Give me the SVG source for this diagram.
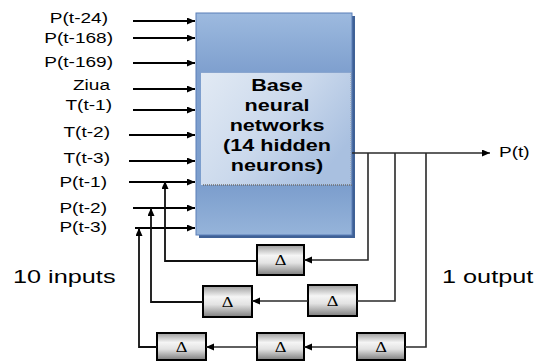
<svg xmlns="http://www.w3.org/2000/svg" width="537" height="361" viewBox="0 0 537 361">
  <style>
    .lbl { font-family: "Liberation Sans", Arial, sans-serif; font-size: 15px; fill: #000; }
    .big { font-family: "Liberation Sans", Arial, sans-serif; font-size: 19px; fill: #000; }
    .core { font-family: "Liberation Sans", Arial, sans-serif; font-size: 17px; font-weight: bold; fill: #000; text-anchor: middle; }
    .delta { font-family: "Liberation Serif", "Times New Roman", serif; font-size: 14px; fill: #000; text-anchor: middle; }
    .in { stroke: #000; stroke-width: 2; fill: none; }
    .fb { stroke: #111; stroke-width: 1.8; fill: none; }
    .out { stroke: #2a2a2a; stroke-width: 1.6; fill: none; }
    .dbox { fill: url(#metal); stroke: #000; stroke-width: 2; }
  </style>
  <defs>
    <marker id="arr" markerUnits="userSpaceOnUse" markerWidth="9" markerHeight="8" refX="8" refY="3.5" orient="auto">
      <path d="M0,0 L8,3.5 L0,7 z" fill="#000"/>
    </marker>
    <linearGradient id="bodyFill" x1="0" y1="0" x2="0" y2="1">
      <stop offset="0" stop-color="#9dbadf"/>
      <stop offset="0.27" stop-color="#7e9fce"/>
      <stop offset="0.78" stop-color="#7c9ecd"/>
      <stop offset="1" stop-color="#96b4da"/>
    </linearGradient>
    <linearGradient id="panelFill" x1="0" y1="0" x2="1" y2="0.6">
      <stop offset="0" stop-color="#e2eaf4"/>
      <stop offset="0.55" stop-color="#cbd9ec"/>
      <stop offset="1" stop-color="#a9c0e0"/>
    </linearGradient>
    <linearGradient id="metal" x1="0" y1="0" x2="0" y2="1">
      <stop offset="0" stop-color="#9c9c9c"/>
      <stop offset="0.35" stop-color="#f5f5f5"/>
      <stop offset="0.6" stop-color="#e2e2e2"/>
      <stop offset="1" stop-color="#7e7e7e"/>
    </linearGradient>
  </defs>

  <!-- network block -->
  <g id="network">
    <rect x="199" y="16" width="156" height="222" fill="#3f6196"/>
    <rect x="196" y="13" width="156" height="222" fill="url(#bodyFill)" stroke="#5a7fb8" stroke-width="1"/>
    <rect x="201" y="72" width="150" height="113" fill="url(#panelFill)"/>
    <line x1="201" y1="72.5" x2="351" y2="72.5" stroke="#8aa6cf" stroke-width="1"/>
    <line x1="203" y1="185" x2="352" y2="185" stroke="#6e6e6e" stroke-width="1.6" stroke-dasharray="1 1"/>
    <line x1="351" y1="72" x2="351" y2="185" stroke="#8d97a6" stroke-width="1" stroke-dasharray="1 1"/>
    <text class="core" transform="translate(277,90.5) scale(1.27,1)">Base</text>
    <text class="core" transform="translate(277,110.5) scale(1.27,1)">neural</text>
    <text class="core" transform="translate(277,130.5) scale(1.27,1)">networks</text>
    <text class="core" transform="translate(277,150.5) scale(1.27,1)">(14 hidden</text>
    <text class="core" transform="translate(277,170.5) scale(1.27,1)">neurons)</text>
  </g>

  <!-- input labels -->
  <g id="inputs">
    <text class="lbl" text-anchor="end" transform="translate(108,23) scale(1.27,1)">P(t-24)</text>
    <text class="lbl" text-anchor="end" transform="translate(113,43) scale(1.27,1)">P(t-168)</text>
    <text class="lbl" text-anchor="end" transform="translate(113,67) scale(1.27,1)">P(t-169)</text>
    <text class="lbl" text-anchor="end" transform="translate(110,90) scale(1.27,1)">Ziua</text>
    <text class="lbl" text-anchor="end" transform="translate(112,110) scale(1.27,1)">T(t-1)</text>
    <text class="lbl" text-anchor="end" transform="translate(110,137) scale(1.27,1)">T(t-2)</text>
    <text class="lbl" text-anchor="end" transform="translate(110,163) scale(1.27,1)">T(t-3)</text>
    <text class="lbl" text-anchor="end" transform="translate(107,187) scale(1.27,1)">P(t-1)</text>
    <text class="lbl" text-anchor="end" transform="translate(107,213) scale(1.27,1)">P(t-2)</text>
    <text class="lbl" text-anchor="end" transform="translate(107,232) scale(1.27,1)">P(t-3)</text>
  </g>

  <g id="output-label">
    <text class="lbl" transform="translate(499,157) scale(1.27,1)">P(t)</text>
  </g>

  <g id="captions">
    <text class="big" transform="translate(13,283) scale(1.33,1)">10 inputs</text>
    <text class="big" transform="translate(442,283) scale(1.33,1)">1 output</text>
  </g>

  <!-- delay units -->
  <g id="delayA">
    <rect class="dbox" x="257" y="245" width="47" height="30"/>
    <text class="delta" transform="translate(280.5,265) scale(1.3,1)">Δ</text>
  </g>
  <g id="delayB">
    <rect class="dbox" x="203" y="286" width="49" height="31"/>
    <text class="delta" transform="translate(227.5,306.5) scale(1.3,1)">Δ</text>
  </g>
  <g id="delayC">
    <rect class="dbox" x="308" y="285" width="49" height="31"/>
    <text class="delta" transform="translate(332.5,305.5) scale(1.3,1)">Δ</text>
  </g>
  <g id="delayD">
    <rect class="dbox" x="157" y="333" width="49" height="27"/>
    <text class="delta" transform="translate(181.5,352) scale(1.3,1)">Δ</text>
  </g>
  <g id="delayE">
    <rect class="dbox" x="257" y="333" width="47" height="27"/>
    <text class="delta" transform="translate(280.5,352) scale(1.3,1)">Δ</text>
  </g>
  <g id="delayF">
    <rect class="dbox" x="357" y="333" width="48" height="27"/>
    <text class="delta" transform="translate(381,352) scale(1.3,1)">Δ</text>
  </g>

  <!-- connectors -->
  <g id="connectors">
    <path class="in" d="M133,21 H195" marker-end="url(#arr)"/>
    <path class="in" d="M133,38 H195" marker-end="url(#arr)"/>
    <path class="in" d="M133,63 H195" marker-end="url(#arr)"/>
    <path class="in" d="M133,89 H195" marker-end="url(#arr)"/>
    <path class="in" d="M133,110 H195" marker-end="url(#arr)"/>
    <path class="in" d="M129,135 H195" marker-end="url(#arr)"/>
    <path class="in" d="M129,161 H195" marker-end="url(#arr)"/>
    <path class="in" d="M129,182 H195" marker-end="url(#arr)"/>
    <path class="in" d="M133,208 H195" marker-end="url(#arr)"/>
    <path class="in" d="M135,228 H195" marker-end="url(#arr)"/>

    <path class="out" d="M352,153 H490" marker-end="url(#arr)"/>
    <path class="out" d="M368,153 V260 H304" marker-end="url(#arr)"/>
    <path class="out" d="M395,153 V301 H357"/>
    <path class="out" d="M426,153 V347 H405"/>
    <path class="out" d="M308,301 H252" marker-end="url(#arr)"/>
    <path class="out" d="M357,347 H304" marker-end="url(#arr)"/>
    <path class="out" d="M257,347 H206" marker-end="url(#arr)"/>

    <path class="fb" d="M257,261 H165 V181" marker-end="url(#arr)"/>
    <path class="fb" d="M203,302 H151 V208" marker-end="url(#arr)"/>
    <path class="fb" d="M157,347 H139 V228" marker-end="url(#arr)"/>
  </g>
</svg>
